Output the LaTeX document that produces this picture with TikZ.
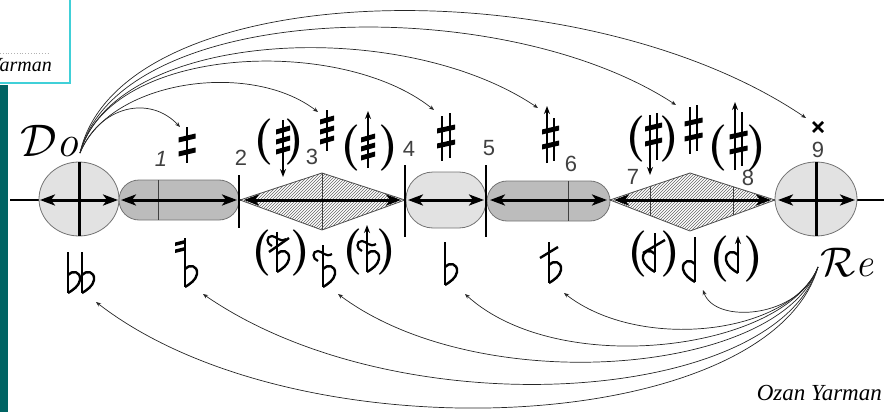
\documentclass[tikz,border=0pt]{standalone}
\usepackage{fontspec}
\newfontfamily\numfont{Liberation Sans}
\newfontfamily\serfont{Liberation Serif}
\usetikzlibrary{arrows.meta,patterns}
\definecolor{tealbar}{RGB}{0,100,100}
\definecolor{boxcyan}{RGB}{64,208,216}
\definecolor{capgray}{RGB}{188,188,188}
\definecolor{dotgray}{RGB}{226,226,226}
\tikzset{
  stemln/.style={line width=2pt},
  dbl/.style={line width=3pt,{Stealth[length=15pt,width=11pt,inset=4pt]}-{Stealth[length=15pt,width=11pt,inset=4pt]}},
  tickln/.style={line width=2.5pt},
  thinv/.style={line width=0.8pt,black!75},
  dotshape/.style={draw=black!55,line width=0.8pt,fill=dotgray},
  capshape/.style={draw=black!55,line width=0.8pt,fill=capgray},
  diamshape/.style={draw=black!70,line width=0.8pt,preaction={fill=white},pattern=north east lines,pattern color=black!60},
  arcln/.style={line width=0.7pt,black!85,-{Stealth[length=5pt,width=4pt]}},
  paren/.style={inner sep=0pt,font=\fontsize{46}{46}\selectfont\bfseries},
  numlab/.style={inner sep=0pt,text=black!75,font=\numfont\fontsize{22}{22}\selectfont},
}
\newcommand\kbars[4]{\begin{scope}[shift={(#1,#2)}]\foreach \b in {#3}{\fill (-#4,\b+4.5) -- (#4,\b+0.5) -- (#4,\b-4.5) -- (-#4,\b-0.5) -- cycle;}\end{scope}}
\newcommand\kstem[3]{\draw[stemln] (#1,#2) -- (#1,#3);}
\newcommand\kastem[3]{\draw[stemln,-{Stealth[length=8pt,width=6pt]}] (#1,#2) -- (#1,#3);}
\newcommand\kbowl[3]{\begin{scope}[shift={(#1,#2)},xscale=#3]\draw[line width=2.4pt,line join=round] (0,-18) .. controls (4,-23) and (13,-22) .. (12,-13) .. controls (11,-7) and (5,-3) .. (0,0);\end{scope}}
\newcommand\kcurl[2]{\draw[line width=2.2pt] (#1-5,#2+5) .. controls (#1-11,#2+3) and (#1-11,#2-5) .. (#1-5,#2-5) .. controls (#1-1,#2-5) and (#1+3,#2+2) .. (#1+9,#2-2);}
\newcommand\ksbar[2]{\fill (#1-5,#2+3) -- (#1+5,#2+0.5) -- (#1+5,#2-3) -- (#1-5,#2-0.5) -- cycle;}
\begin{document}
\begin{tikzpicture}[x=1pt,y=-1pt]
\useasboundingbox (0,0) rectangle (884,412);
% frame pieces
\fill[tealbar] (0,85) rectangle (8,412);
\draw[boxcyan,line width=1.5pt,fill=white] (-5,-5) rectangle (70,83);
\draw[black!30,dotted,line width=0.8pt] (0,53) -- (50,53);
\node[anchor=base east,inner sep=0pt,font=\serfont\itshape\fontsize{20}{20}\selectfont] (yar) at (52,72) {Yarman};
% axis
\draw[line width=2pt] (10,200) -- (884,200);
% shapes
\draw[dotshape] (79,199) ellipse [x radius=40, y radius=37];
\draw[capshape,rounded corners=20pt] (119,180) rectangle (239,220);
\draw[diamshape] (240,200) -- (322,173) -- (405,200) -- (322,230) -- cycle;
\draw[dotshape,rounded corners=27pt] (406,172) rectangle (486,228);
\draw[capshape,rounded corners=20pt] (487,181) rectangle (610,221);
\draw[diamshape] (610,200) -- (690,173) -- (775,200) -- (690,231) -- cycle;
\draw[dotshape] (816,199) ellipse [x radius=41, y radius=37];
% thin verticals
\draw[thinv] (158,180) -- (158,220);
\draw[thinv] (322,173) -- (322,230);
\draw[thinv] (568,181) -- (568,221);
\draw[thinv] (650,186.5) -- (650,215.5);
\draw[thinv] (733,186.7) -- (733,215.3);
% double arrows
\draw[dbl] (40,200) -- (118,200);
\draw[dbl] (121,200) -- (237,200);
\draw[dbl] (244,200) -- (401,200);
\draw[dbl] (408,200) -- (484,200);
\draw[dbl] (490,200) -- (607,200);
\draw[dbl] (614,200) -- (771,200);
\draw[dbl] (778,200) -- (855,200);
% verticals and ticks
\draw[line width=3pt] (79,162) -- (79,236);
\draw[line width=3pt] (816,162) -- (816,236);
\draw[tickln] (239,175) -- (239,228);
\draw[tickln] (405,165) -- (405,237);
\draw[tickln] (486,165) -- (486,237);
% numbers
\node[numlab,font=\numfont\itshape\fontsize{22}{22}\selectfont] (n1) at (161,159) {1};
\node[numlab] (n2) at (241,158) {2};
\node[numlab] (n3) at (312,157) {3};
\node[numlab] (n4) at (409,149) {4};
\node[numlab] (n5) at (489,148) {5};
\node[numlab] (n6) at (571,164) {6};
\node[numlab] (n7) at (633,177) {7};
\node[numlab] (n8) at (748,178) {8};
\node[numlab] (n9) at (818,150) {9};
% accidentals above
\kstem{187}{127}{163}\kbars{187}{145}{-7,7}{8.5}
\kastem{283}{120}{177}\kbars{283}{140}{-10,0,10}{7}
\node[paren] (pa1) at (264,142) {(};
\node[paren] (pa2) at (295,142) {)};
\kstem{327}{110}{151}\kbars{327}{130}{-10,0,10}{7}
\kastem{368}{168}{111}\kbars{368}{147}{-9,0,9}{7}
\node[paren] (pa3) at (351,148) {(};
\node[paren] (pa4) at (389,148) {)};
\kstem{442}{116}{161}\kstem{450}{113}{158}\kbars{446}{137}{-8,7}{9}
\kastem{547}{163}{106}\kstem{554}{118}{161}\kbars{550.5}{138}{-8,7}{8.5}
\kastem{650}{115}{175}\kstem{657}{113}{160}\kbars{653.5}{135}{-8,7}{8.5}
\node[paren] (pa5) at (636,139) {(};
\node[paren] (pa6) at (670,139) {)};
\kstem{690}{107}{154}\kstem{697}{105}{151}\kbars{693.5}{130}{-8,7}{9}
\kastem{735}{170}{102}\kstem{742}{112}{166}\kbars{738.5}{143}{-8,7}{9}
\node[paren] (pa7) at (718,148) {(};
\node[paren] (pa8) at (757,148) {)};
\draw[line width=2.6pt] (813,122) -- (823,132) (813,132) -- (823,122);
% accidentals below
\kstem{68}{252}{293}\kbowl{68}{293}{1}
\kstem{82}{252}{293}\kbowl{82}{293}{1}
\kstem{185}{238}{287}\kbowl{185}{287}{1}\ksbar{180}{243}\ksbar{180}{250}
\kstem{277}{232}{272}\kbowl{277}{272}{1}\kcurl{277}{241}
\draw[line width=2.4pt] (269,252) -- (289,238);
\node[paren] (pb1) at (262,253) {(};
\node[paren] (pb2) at (301,253) {)};
\kstem{323}{245}{287}\kbowl{323}{287}{1}\kcurl{323}{256}
\kastem{367}{272}{225}\kbowl{367}{272}{1}\kcurl{367}{246}
\node[paren] (pb3) at (353,252) {(};
\node[paren] (pb4) at (387,252) {)};
\kstem{445}{242}{285}\kbowl{445}{285}{1}
\kstem{549}{242}{283}\kbowl{549}{283}{1}
\draw[line width=2.4pt] (540,258) -- (558,247);
\kstem{655}{233}{272}\kbowl{655}{272}{-1}
\draw[line width=2.4pt] (643,253) -- (665,240);
\node[paren] (pb5) at (638,254) {(};
\node[paren] (pb6) at (671,254) {)};
\kstem{695}{237}{282}\kbowl{695}{282}{-1}
\kastem{738}{273}{236}\kbowl{738}{273}{-1}
\node[paren] (pb7) at (720,259) {(};
\node[paren] (pb8) at (754,259) {)};
% Do and Re
\node[anchor=base west,inner sep=0pt,scale=2.2,font=\fontsize{20}{20}\selectfont] (do) at (20,156) {$\mathcal{D}$\textit{o}};
\node[anchor=base west,inner sep=0pt,scale=2,font=\fontsize{20}{20}\selectfont] (re) at (820,276) {$\mathcal{R}$\textit{e}};
\node[anchor=base east,inner sep=0pt,font=\serfont\itshape\fontsize{23}{23}\selectfont] (oy) at (882,400) {Ozan Yarman};
% arc endpoints
\coordinate (ds) at (80,153);
\coordinate (rs) at (818,267);
\coordinate (t1) at (180,127);
\coordinate (t2) at (318,112);
\coordinate (t3) at (434,110);
\coordinate (t4) at (538,108);
\coordinate (t5) at (676,105);
\coordinate (t6) at (806,118);
\coordinate (b1) at (703,290);
\coordinate (b2) at (564,293);
\coordinate (b3) at (465,294);
\coordinate (b4) at (338,294);
\coordinate (b5) at (203,294);
\coordinate (b6) at (96,302);
% arcs from Do
\draw[arcln] (ds) .. controls (100,105) and (150,95) .. (t1);
\draw[arcln] (ds) .. controls (110,80) and (250,60) .. (t2);
\draw[arcln] (ds) .. controls (110,45) and (340,35) .. (t3);
\draw[arcln] (ds) .. controls (115,30) and (400,15) .. (t4);
\draw[arcln] (ds) .. controls (120,0) and (500,-10) .. (t5);
\draw[arcln] (ds) .. controls (120,-25) and (580,-35) .. (t6);
% arcs from Re
\draw[arcln] (rs) .. controls (800,318) and (715,325) .. (b1);
\draw[arcln] (rs) .. controls (790,335) and (640,352) .. (b2);
\draw[arcln] (rs) .. controls (785,350) and (560,380) .. (b3);
\draw[arcln] (rs) .. controls (780,375) and (480,400) .. (b4);
\draw[arcln] (rs) .. controls (775,405) and (400,430) .. (b5);
\draw[arcln] (rs) .. controls (770,435) and (300,460) .. (b6);
\end{tikzpicture}
\end{document}
